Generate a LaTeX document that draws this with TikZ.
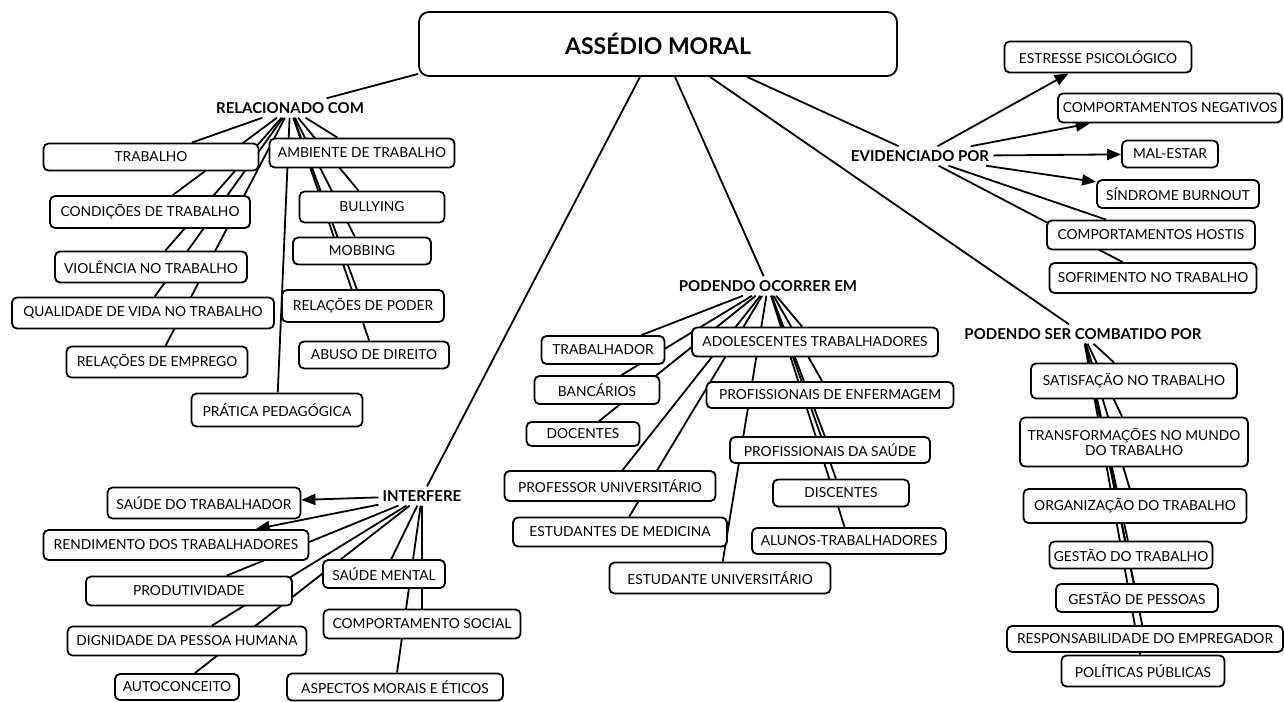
\documentclass[tikz,border=0pt]{standalone}
\usepackage{fontspec}
\setmainfont{Lato}
\usetikzlibrary{arrows.meta,backgrounds}

\begin{document}
\begin{tikzpicture}[x=1pt,y=-1pt,
  conc/.style={draw,rounded corners=5pt,line width=1.8pt,fill=white,inner sep=1pt,align=center,font=\fontsize{13.8}{15.5}\selectfont},
  hub/.style={inner sep=4pt,font=\fontsize{15}{17}\selectfont\bfseries},
  link/.style={line width=1.8pt},
  flow/.style={link,-{Triangle[length=14pt,width=11pt]}}]
\useasboundingbox (0,0) rectangle (1284,701);
% main concept
\node[conc,minimum width=478pt,minimum height=64pt,rounded corners=10pt,font=\fontsize{23}{26}\selectfont\bfseries] (tit) at (658,44) {ASSÉDIO MORAL};
% linking phrases
\node[hub] (rel) at (290,108) {RELACIONADO COM};
\node[hub] (int) at (422,496) {INTERFERE};
\node[hub] (oco) at (768,286) {PODENDO OCORRER EM};
\node[hub] (evi) at (920,156) {EVIDENCIADO POR};
\node[hub] (comb) at (1083,334) {PODENDO SER COMBATIDO POR};
% concepts: name/x/y/width/height/text
\foreach \n/\x/\y/\w/\h/\t in {
  trab/151/157/215/27/TRABALHO, amb/362/153/185/29/AMBIENTE DE TRABALHO,
  cond/150/212/200/32/CONDIÇÕES DE TRABALHO, bull/372/207/145/31/BULLYING,
  viol/151/267/192/31/VIOLÊNCIA NO TRABALHO, mobb/362/251/138/27/MOBBING,
  qual/143/313/262/31/QUALIDADE DE VIDA NO TRABALHO, poder/363/306/162/32/RELAÇÕES DE PODER,
  empr/157/362/181/31/RELAÇÕES DE EMPREGO, abuso/374/355/150/27/ABUSO DE DIREITO,
  prat/277/410/171/33/PRÁTICA PEDAGÓGICA}
  \node[conc,minimum width=\w pt,minimum height=\h pt] (\n) at (\x,\y) {\t};
\foreach \n/\x/\y/\w/\h/\t in {
  trabr/603/350/123/28/TRABALHADOR, adol/815/342/246/29/ADOLESCENTES TRABALHADORES,
  banc/597/390/125/28/BANCÁRIOS, enf/830/395/247/26/PROFISSIONAIS DE ENFERMAGEM,
  doc/583/434/113/24/DOCENTES, sau/830/450/200/26/PROFISSIONAIS DA SAÚDE,
  prof/610/486/211/30/PROFESSOR UNIVERSITÁRIO, disc/841/493/136/27/DISCENTES,
  med/620/532/214/29/ESTUDANTES DE MEDICINA, alun/849/541/194/26/ALUNOS-TRABALHADORES,
  euniv/720/578/221/31/ESTUDANTE UNIVERSITÁRIO}
  \node[conc,minimum width=\w pt,minimum height=\h pt] (\n) at (\x,\y) {\t};
\foreach \n/\x/\y/\w/\h/\t in {
  est/1098/57/187/31/ESTRESSE PSICOLÓGICO, neg/1170/108/224/29/COMPORTAMENTOS NEGATIVOS,
  mal/1170/154/96/27/MAL-ESTAR, burn/1178/194/162/28/SÍNDROME BURNOUT,
  host/1151/235/208/29/COMPORTAMENTOS HOSTIS, sofr/1153/278/207/30/SOFRIMENTO NO TRABALHO}
  \node[conc,minimum width=\w pt,minimum height=\h pt] (\n) at (\x,\y) {\t};
\foreach \n/\x/\y/\w/\h/\t in {
  sat/1134/381/206/35/SATISFAÇÃO NO TRABALHO, org/1135/506/223/34/ORGANIZAÇÃO DO TRABALHO,
  gtrab/1131/555/163/27/GESTÃO DO TRABALHO, gpes/1137/598/162/28/GESTÃO DE PESSOAS,
  resp/1145/639/276/26/RESPONSABILIDADE DO EMPREGADOR, pol/1143/671/163/31/POLÍTICAS PÚBLICAS}
  \node[conc,minimum width=\w pt,minimum height=\h pt] (\n) at (\x,\y) {\t};
\node[conc,minimum width=228pt,minimum height=49pt] (transf) at (1134,442) {TRANSFORMAÇÕES NO MUNDO\\DO TRABALHO};
\foreach \n/\x/\y/\w/\h/\t in {
  sdt/204/503/193/31/SAÚDE DO TRABALHADOR, rend/176/545/265/30/RENDIMENTO DOS TRABALHADORES,
  prod/189/591/206/29/PRODUTIVIDADE, smen/384/574/122/28/SAÚDE MENTAL,
  dign/187/641/239/29/DIGNIDADE DA PESSOA HUMANA, csoc/422/624/197/29/COMPORTAMENTO SOCIAL,
  auto/177/687/124/26/AUTOCONCEITO, aspe/395/687/216/27/ASPECTOS MORAIS E ÉTICOS}
  \node[conc,minimum width=\w pt,minimum height=\h pt] (\n) at (\x,\y) {\t};
% connectors behind the boxes
\begin{scope}[on background layer]
\draw[link] ([yshift=3pt]tit.south west) -- (rel);
\draw[link] ([xshift=-18pt]tit.south) -- (int);
\draw[link] ([xshift=17pt]tit.south) -- (oco);
\draw[link] ([xshift=52pt]tit.south) -- (comb);
\draw[link] ([xshift=89pt]tit.south) -- (evi);
\foreach \b in {trab,cond,viol,qual,empr,prat,amb,bull,mobb,poder,abuso}
  \draw[link] (rel) -- (\b);
\foreach \b in {trabr,banc,doc,prof,med,euniv,adol,enf,sau,disc,alun}
  \draw[link] (oco) -- (\b);
\foreach \b in {est,neg,mal,burn}
  \draw[flow] (evi) -- (\b);
\foreach \b in {host,sofr}
  \draw[link] (evi) -- (\b);
\foreach \b in {sat,transf,org,gtrab,gpes,resp,pol}
  \draw[link] (comb) -- (\b);
\foreach \b in {sdt,rend}
  \draw[flow] (int) -- (\b);
\foreach \b in {prod,dign,auto,smen,csoc,aspe}
  \draw[link] (int) -- (\b);
\end{scope}
\end{tikzpicture}
\end{document}
